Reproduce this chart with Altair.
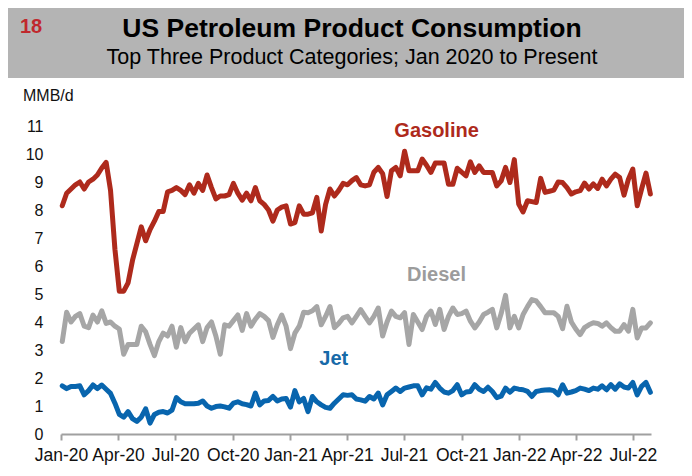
import altair as alt
import pandas as pd

# ---- data (weekly) ----
start_date = "2020-01-03"
n_weeks = 135

gasoline = [8.15, 8.6, 8.75, 8.9, 9.0, 8.75, 9.0, 9.1, 9.25, 9.5,
            9.7, 8.7, 6.6, 5.1, 5.1, 5.4, 6.2, 6.8, 7.4, 6.9,
            7.3, 7.6, 7.95, 7.95, 8.65, 8.7, 8.8, 8.7, 8.55, 8.9,
            8.6, 8.95, 8.7, 9.25, 8.8, 8.4, 8.5, 8.5, 8.55, 8.95,
            8.6, 8.35, 8.6, 8.33, 8.8, 8.33, 8.2, 8.0, 7.6, 8.0,
            8.1, 8.15, 7.5, 7.55, 8.15, 7.85, 7.85, 7.9, 8.45, 7.25,
            8.2, 8.75, 8.5, 8.7, 8.95, 8.9, 9.05, 9.16, 8.9, 8.86,
            8.9, 9.35, 9.52, 9.3, 8.48, 9.4, 9.52, 9.22, 10.1, 9.4,
            9.4, 9.4, 9.82, 9.6, 9.34, 9.68, 9.68, 9.68, 8.92, 8.92,
            9.49, 9.35, 9.22, 9.72, 9.34, 9.58, 9.34, 9.34, 9.34, 8.86,
            9.04, 9.52, 8.98, 9.8, 8.21, 7.93, 8.33, 8.3, 8.27, 9.13,
            8.63, 8.67, 8.71, 9.0, 8.98, 8.8, 8.57, 8.65, 8.69, 8.96,
            8.75, 8.93, 8.77, 9.1, 8.86, 9.1, 9.28, 9.16, 8.53, 9.1,
            9.46, 8.15, 8.75, 9.32, 8.57]

diesel = [3.3, 4.35, 4.0, 4.2, 4.3, 3.85, 3.8, 4.25, 4.0, 4.4,
          3.95, 4.0, 3.85, 3.75, 2.85, 3.2, 3.2, 3.2, 3.85, 3.65,
          3.2, 2.8, 3.3, 3.6, 3.5, 3.85, 3.1, 3.8, 3.3, 3.6,
          3.75, 3.9, 3.3, 3.8, 4.0, 3.5, 2.85, 3.9, 3.85, 4.05,
          4.25, 3.7, 4.3, 3.85, 4.1, 4.3, 4.2, 4.05, 3.45, 3.9,
          4.25, 3.85, 3.05, 3.6, 3.85, 4.35, 4.33, 4.4, 4.55, 3.9,
          4.2, 4.55, 3.8, 3.95, 4.15, 4.2, 3.97, 4.2, 4.44, 4.2,
          3.97, 4.2, 4.5, 3.5, 4.0, 4.39, 4.2, 4.15, 4.33, 3.2,
          4.27, 4.0, 3.73, 4.2, 4.39, 3.91, 4.45, 3.73, 4.2, 4.5,
          4.27, 4.3, 4.39, 4.03, 3.79, 4.0, 4.27, 4.35, 4.45, 3.79,
          4.3, 4.95, 3.79, 4.2, 3.79, 4.27, 4.55, 4.8, 4.75, 4.55,
          4.33, 4.33, 4.33, 4.2, 3.76, 4.56, 4.0, 3.75, 3.55, 3.8,
          3.9, 3.97, 3.95, 3.85, 3.97, 3.8, 3.67, 3.67, 3.91, 3.67,
          4.45, 3.43, 3.79, 3.79, 3.97]

jet = [1.72, 1.62, 1.7, 1.7, 1.72, 1.4, 1.55, 1.75, 1.62, 1.75,
       1.6, 1.45, 1.1, 0.7, 0.6, 0.8, 0.55, 0.45, 0.6, 0.9,
       0.39, 0.7, 0.78, 0.8, 0.75, 0.85, 1.3, 1.15, 1.08, 1.08,
       1.08, 1.1, 1.18, 1.0, 0.92, 0.98, 1.0, 0.97, 0.92, 1.1,
       1.15, 1.08, 1.05, 1.0, 1.46, 1.04, 1.18, 1.2, 1.34, 1.18,
       1.25, 1.27, 0.96, 1.55, 1.15, 1.27, 0.8, 1.34, 1.15, 1.04,
       0.95, 0.92, 1.1, 1.25, 1.4, 1.38, 1.4, 1.25, 1.22, 1.17,
       1.34, 1.25, 1.46, 1.04, 1.4, 1.52, 1.64, 1.52, 1.64, 1.68,
       1.72, 1.72, 1.4, 1.65, 1.6, 1.84, 1.64, 1.5, 1.46, 1.55,
       1.76, 1.4, 1.5, 1.52, 1.76, 1.6, 1.52, 1.67, 1.52, 1.3,
       1.35, 1.64, 1.49, 1.64, 1.6, 1.58, 1.52, 1.34, 1.52, 1.55,
       1.57, 1.58, 1.55, 1.4, 1.76, 1.46, 1.5, 1.55, 1.64, 1.6,
       1.55, 1.64, 1.6, 1.72, 1.58, 1.76, 1.6, 1.79, 1.68, 1.64,
       1.84, 1.4, 1.7, 1.84, 1.49]

series_names = ["Gasoline", "Diesel", "Jet"]
series_colors = ["#ae2a1c", "#a6a6a6", "#0865ae"]
label_colors = ["#ae2a1c", "#9c9c9c", "#176aa8"]
label_dates = ["2021-08-22T00:00:00", "2021-08-22T00:00:00", "2021-03-11T00:00:00"]
label_values = [10.61, 5.46, 2.46]

y_ticks = list(range(0, 12))
x_tick_months = [(2020, 1), (2020, 4), (2020, 7), (2020, 10),
                 (2021, 1), (2021, 4), (2021, 7), (2021, 10),
                 (2022, 1), (2022, 4), (2022, 7)]

title_text = "US Petroleum Product Consumption"
subtitle_text = "Top Three Product Categories; Jan 2020 to Present"
page_number = "18"
unit_text = "MMB/d"

# ---- build tables ----
dates = pd.date_range(start_date, periods=n_weeks, freq="7D").strftime("%Y-%m-%dT00:00:00")
rows = []
for name, vals in zip(series_names, [gasoline, diesel, jet]):
    for d, v in zip(dates, vals):
        rows.append({"date": d, "value": v, "series": name})
df = pd.DataFrame(rows)

labels_df = pd.DataFrame({"date": label_dates, "value": label_values,
                          "series": series_names})

FONT = "Liberation Sans"
W, H = 590, 308
PL, PT, PR, PB = 53, 118, 33, 34

x_scale = alt.Scale(domain=[alt.DateTime(year=2020, month=1, date=1),
                            alt.DateTime(year=2022, month=7, date=30)])
y_scale = alt.Scale(domain=[0, 11], nice=False, zero=False)

x_axis = alt.Axis(values=[alt.DateTime(year=y, month=m, date=1) for y, m in x_tick_months],
                  format="%b-%y", title=None, grid=False,
                  domainColor="#a0a0a0", domainWidth=2, tickColor="#a0a0a0",
                  tickWidth=2, tickSize=6, labelFont=FONT, labelFontSize=17.5,
                  labelColor="#111111", labelPadding=6, labelFlush=False,
                  labelOverlap=False)
y_axis = alt.Axis(values=y_ticks, title=None, grid=False, domain=False,
                  ticks=False, labelFont=FONT, labelFontSize=16,
                  labelColor="#111111", labelPadding=18, labelOverlap=False)

color_scale = alt.Scale(domain=series_names, range=series_colors)

lines = alt.Chart(df).mark_line(strokeWidth=5, strokeJoin="round", strokeCap="round").encode(
    x=alt.X("date:T", scale=x_scale, axis=x_axis),
    y=alt.Y("value:Q", scale=y_scale, axis=y_axis),
    color=alt.Color("series:N", scale=color_scale, legend=None),
    detail="series:N",
)

labels = alt.Chart(labels_df).mark_text(font=FONT, fontSize=20, fontWeight="bold",
                                        align="center", baseline="alphabetic").encode(
    x=alt.X("date:T", scale=x_scale, axis=x_axis),
    y=alt.Y("value:Q", scale=y_scale, axis=y_axis),
    text="series:N",
    color=alt.Color("series:N", scale=alt.Scale(domain=series_names, range=label_colors),
                    legend=None),
)

one = pd.DataFrame({"a": [0]})
band = alt.Chart(one).mark_rect(color="#b4b4b4").encode(
    x=alt.value(-PL), x2=alt.value(W + PR), y=alt.value(-PT), y2=alt.value(-48))

title = alt.Chart(one).mark_text(text=title_text, font=FONT, fontSize=26.5, fontWeight="bold",
                                 align="center", baseline="alphabetic", color="#000000").encode(
    x=alt.value(291), y=alt.value(-89))
subtitle = alt.Chart(one).mark_text(text=subtitle_text, font=FONT, fontSize=21.5,
                                    align="center", baseline="alphabetic", color="#000000").encode(
    x=alt.value(291), y=alt.value(-62))
pnum = alt.Chart(one).mark_text(text=page_number, font=FONT, fontSize=20, fontWeight="bold",
                                align="left", baseline="alphabetic", color="#c0282d").encode(
    x=alt.value(-41), y=alt.value(-93))
unit = alt.Chart(one).mark_text(text=unit_text, font=FONT, fontSize=16,
                                align="left", baseline="alphabetic", color="#111111").encode(
    x=alt.value(-38), y=alt.value(-25))

chart = alt.layer(band, title, subtitle, pnum, unit, lines, labels).resolve_scale(
    color="independent"
).properties(
    width=W, height=H,
    padding={"left": PL, "top": PT, "right": PR, "bottom": PB},
    autosize=alt.AutoSizeParams(type="none"),
    background="white",
).configure_view(stroke=None).configure_axis(labelOverlap=False)

chart.save("out.html", embed_options={"renderer": "svg", "actions": False})
